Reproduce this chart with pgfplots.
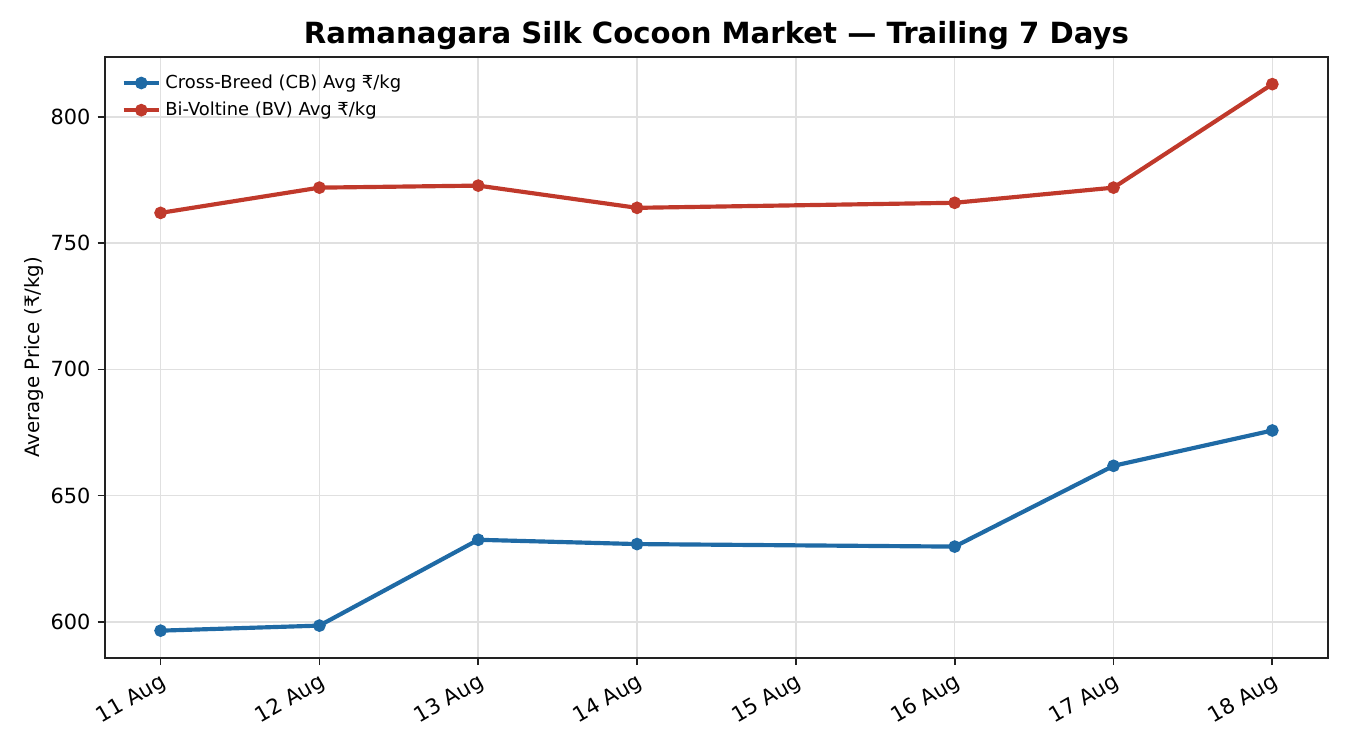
\documentclass[border=0pt]{standalone}
\usepackage{pgfplots}
\pgfplotsset{compat=1.18}
\usepackage{fontspec}
\setmainfont{DejaVu Sans}
\definecolor{cbblue}{HTML}{1F6AA5}
\definecolor{bvred}{HTML}{C0392B}
\definecolor{gridgray}{HTML}{E0E0E0}
\definecolor{spine}{HTML}{222222}
\begin{document}
\begin{tikzpicture}
\useasboundingbox (0,0) rectangle (648pt,360pt);
\begin{axis}[
  at={(50.4pt,44.2pt)}, anchor=south west,
  scale only axis, width=587pt, height=288.5pt,
  xmin=-0.35, xmax=7.35, ymin=585.7, ymax=823.8,
  xtick={0,1,2,3,4,5,6,7},
  xticklabels={11 Aug,12 Aug,13 Aug,14 Aug,15 Aug,16 Aug,17 Aug,18 Aug},
  ytick={600,650,700,750,800},
  x tick label style={rotate=30, anchor=north east, font=\fontsize{10.2}{12}\selectfont, inner sep=0.5pt, yshift=-2pt, xshift=-1.5pt},
  y tick label style={font=\fontsize{10}{12}\selectfont},
  /pgf/number format/assume math mode=true,
  /pgf/number format/1000 sep={},
  tick align=outside, major tick length=3.5pt,
  tick style={spine, line width=0.8pt},
  xtick pos=bottom, ytick pos=left,
  axis line style={spine, line width=0.8pt},
  grid=major, major grid style={gridgray, line width=0.7pt},
  title={\textbf{Ramanagara Silk Cocoon Market — Trailing 7 Days}},
  title style={font=\fontsize{14}{16}\selectfont, yshift=-6pt},
  ylabel={Average Price (₹/kg)},
  ylabel style={font=\fontsize{9.5}{11}\selectfont, yshift=-3.5pt},
  legend style={at={(0.008,0.985)}, anchor=north west, draw=none, fill=none,
    font=\fontsize{8.6}{10}\selectfont, row sep=1pt},
  legend cell align=left,
]
\addplot[cbblue, line width=2pt, mark=*, mark size=2pt] coordinates {
  (0,596.5) (1,598.5) (2,632.5) (3,630.8) (5,629.8) (6,661.8) (7,675.8)
};
\addlegendentry{Cross-Breed (CB) Avg ₹/kg}
\addplot[bvred, line width=2pt, mark=*, mark size=2pt] coordinates {
  (0,762) (1,772) (2,772.8) (3,764) (5,766) (6,772) (7,813)
};
\addlegendentry{Bi-Voltine (BV) Avg ₹/kg}
\end{axis}
\end{tikzpicture}
\end{document}
